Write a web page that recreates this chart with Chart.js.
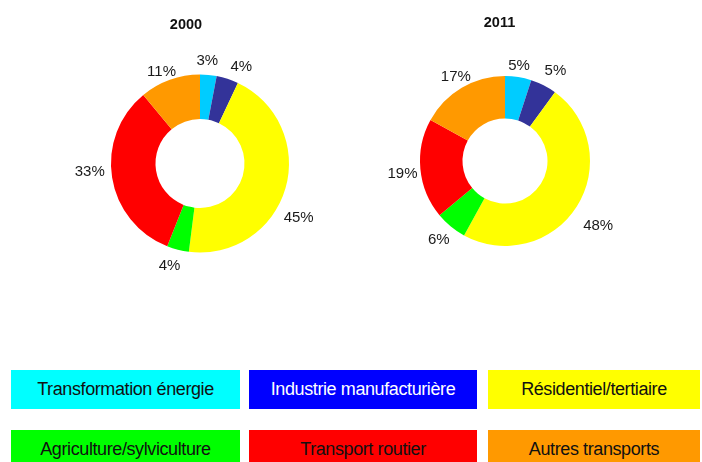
<!DOCTYPE html>
<html>
<head>
<meta charset="utf-8">
<script src="https://cdn.jsdelivr.net/npm/chart.js@4"></script>
<style>
  body { margin: 0; background: #fff; width: 702px; height: 462px; overflow: hidden; position: relative; font-family: "Liberation Sans", Arial, sans-serif; }
  .chartbox { position: absolute; top: 0; height: 270px; }
  .title { position: absolute; width: 100px; text-align: center; font-size: 14.5px; line-height: 17px; font-weight: bold; color: #111; }
  .legend { position: absolute; height: 39px; line-height: 39px; text-align: center; font-size: 18px; letter-spacing: -0.4px; color: #111; }
</style>
</head>
<body>
<div class="chartbox" style="left:0px; width:400px;"><canvas id="c2000"></canvas></div>
<div class="chartbox" style="left:310px; width:390px;"><canvas id="c2011"></canvas></div>
<div class="title" style="left:136px; top:15.5px;">2000</div>
<div class="title" style="left:449.5px; top:13.5px;">2011</div>
<div id="legend"></div>
<script>
var categories = ["Transformation énergie", "Industrie manufacturière", "Résidentiel/tertiaire",
                  "Agriculture/sylviculture", "Transport routier", "Autres transports"]
var values_2000 = [3, 4, 45, 4, 33, 11]
var values_2011 = [5, 5, 48, 6, 19, 17]
var slice_colors = ["#00CCFF", "#333399", "#FFFF00", "#00FF00", "#FF0000", "#FF9900"]
var legend_colors = ["#00FFFF", "#0000FF", "#FFFF00", "#00FF00", "#FF0000", "#FF9900"]
var legend_text_colors = ["#111", "#fff", "#111", "#111", "#111", "#111"]

// percentage labels outside the ring: angle shift (deg) and gap beyond the outer edge, per slice
const outsideLabels = {
    id: "outsideLabels",
    afterDatasetsDraw(chart, args, opts) {
        var ctx = chart.ctx
        var meta = chart.getDatasetMeta(0)
        var data = chart.data.datasets[0].data
        ctx.save()
        ctx.font = "15px 'Liberation Sans', Arial, sans-serif"
        ctx.fillStyle = "#1a1a1a"
        ctx.textAlign = "center"
        ctx.textBaseline = "middle"
        meta.data.forEach(function (arc, i) {
            var p = arc.getProps(["x", "y", "startAngle", "endAngle", "outerRadius"], true)
            var a = (p.startAngle + p.endAngle) / 2 + opts.shift[i] * Math.PI / 180
            var r = p.outerRadius + opts.gap[i]
            ctx.fillText(data[i] + "%", p.x + r * Math.cos(a), p.y + r * Math.sin(a))
        })
        ctx.restore()
    }
}

function makeDonut(id, values, pad, shift, gap) {
    return new Chart(document.getElementById(id), {
        type: "doughnut",
        data: {
            labels: categories,
            datasets: [{
                data: values,
                backgroundColor: slice_colors,
                borderWidth: 0
            }]
        },
        options: {
            responsive: true,
            maintainAspectRatio: false,
            animation: false,
            cutout: "50%",
            layout: { padding: pad },
            plugins: {
                legend: { display: false },
                tooltip: { enabled: false },
                title: { display: false },
                outsideLabels: { shift: shift, gap: gap }
            }
        },
        plugins: [outsideLabels]
    })
}

makeDonut("c2000", values_2000,
          { left: 111, right: 111, top: 74.5, bottom: 17.5 },
          [-1.3, 5.1, 12.5, 2.2, 4.5, -2.9],
          [13.6, 16.2, 23.5, 17.7, 21.6, 10.7])
makeDonut("c2011", values_2011,
          { left: 110, right: 110, top: 76, bottom: 24 },
          [-0.6, 2.2, 2.3, 0.5, -1.6, 0.4],
          [11.2, 18.4, 28.3, 17.7, 18.3, 12.8])

// legend boxes
var legend_div = document.getElementById("legend")
var col_x = [11, 249, 488]
var col_w = [229, 228, 212]
var row_y = [370, 430]
for (var i = 0; i < categories.length; i++) {
    var box = document.createElement("div")
    box.className = "legend"
    box.style.left = col_x[i % 3] + "px"
    box.style.width = col_w[i % 3] + "px"
    box.style.top = row_y[Math.floor(i / 3)] + "px"
    box.style.background = legend_colors[i]
    box.style.color = legend_text_colors[i]
    box.innerText = categories[i]
    legend_div.appendChild(box)
}
</script>
</body>
</html>
